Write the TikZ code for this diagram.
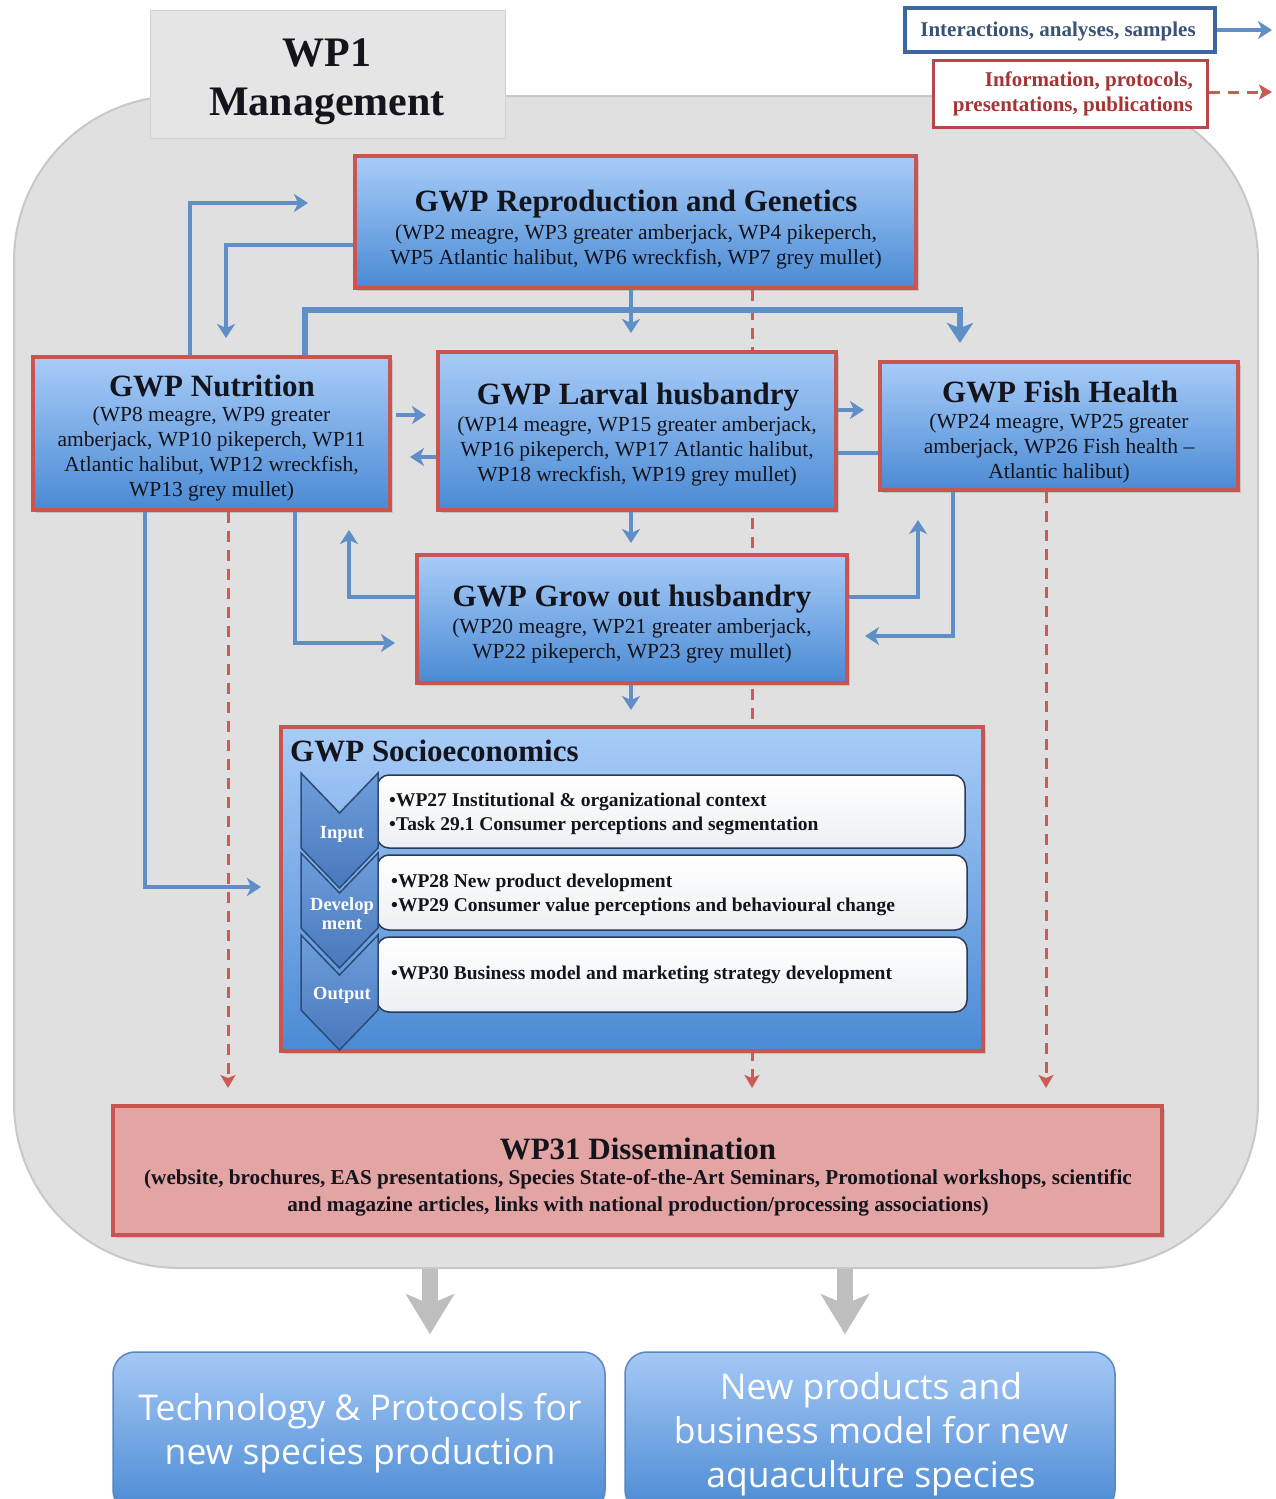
\documentclass[tikz,border=0pt]{standalone}
\usepackage{fontspec}
\setmainfont{Liberation Serif}
\newfontfamily\chalk{Open Sans}
\usetikzlibrary{arrows.meta,shadows}
\pgfdeclarelayer{bgzero}
\pgfdeclarelayer{background}
\pgfsetlayers{bgzero,background,main}
\definecolor{boxred}{RGB}{201,84,80}
\definecolor{lblue}{RGB}{168,204,248}
\definecolor{dblue}{RGB}{74,138,212}
\definecolor{linkblue}{RGB}{96,143,200}
\definecolor{dashred}{RGB}{205,90,85}
\definecolor{ink}{RGB}{20,20,28}
\definecolor{bggray}{RGB}{224,224,224}
\definecolor{bgline}{RGB}{200,200,200}
\definecolor{wpgray}{RGB}{229,229,229}
\definecolor{wpline}{RGB}{208,208,208}
\definecolor{legblue}{RGB}{61,103,163}
\definecolor{legbluetxt}{RGB}{58,82,118}
\definecolor{legred}{RGB}{185,70,75}
\definecolor{legredtxt}{RGB}{165,52,52}
\definecolor{dispink}{RGB}{227,164,164}
\definecolor{rowline}{RGB}{42,58,85}
\definecolor{rowgray}{RGB}{236,239,243}
\definecolor{chevline}{RGB}{45,75,120}
\definecolor{chevtop}{RGB}{110,158,218}
\definecolor{chevbot}{RGB}{72,120,188}
\definecolor{arrgray}{RGB}{190,190,190}
\definecolor{outtop}{RGB}{165,200,245}
\definecolor{outbot}{RGB}{75,138,212}
\definecolor{outline}{RGB}{90,135,195}
\begin{document}
\begin{tikzpicture}[x=1pt,y=-1pt,
  gwpbox/.style={draw=boxred, line width=4pt, top color=lblue, bottom color=dblue, inner sep=0pt,
    drop shadow={shadow xshift=3pt,shadow yshift=-3pt,opacity=0.3}},
  ttltxt/.style={font=\fontsize{31}{34}\selectfont\bfseries, text=ink, anchor=base, inner sep=0pt},
  subtxt/.style={font=\fontsize{21.5}{25}\selectfont, text=ink, align=center, inner sep=0pt},
  rowbox/.style={draw=rowline, line width=1.5pt, rounded corners=12pt, top color=white, bottom color=rowgray, inner sep=0pt},
  rowtxt/.style={font=\fontsize{19.5}{23.5}\selectfont\bfseries, text=ink, align=left, anchor=west, inner sep=0pt},
  chevshape/.style={draw=chevline, line width=1.5pt, top color=chevtop, bottom color=chevbot},
  chevtxt/.style={font=\fontsize{18.5}{19}\selectfont\bfseries, text=white, align=center, inner sep=0pt},
  blink/.style={draw=linkblue, line width=3.5pt, -{Stealth[length=14pt,width=18pt,inset=4pt]}},
  bline/.style={draw=linkblue, line width=3.5pt},
  bthick/.style={draw=linkblue, line width=6pt, -{Stealth[length=20pt,width=26pt,inset=5pt]}},
  rlink/.style={draw=dashred, line width=3pt, dash pattern=on 11pt off 8pt, -{Stealth[length=13pt,width=15pt,inset=3pt]}},
  garrow/.style={draw=arrgray, line width=16pt, -{Stealth[length=40pt,width=48pt,inset=10pt]}},
  outbox/.style={draw=outline, line width=1.5pt, rounded corners=22pt, top color=outtop, bottom color=outbot, inner sep=0pt},
  outtxt/.style={font=\chalk\fontsize{35.5}{44}\selectfont, text=white, align=center, inner sep=0pt}
]
\useasboundingbox (0,0) rectangle (1276,1499);
\begin{pgfonlayer}{bgzero}
\fill[white] (0,0) rectangle (1276,1499);
\node[draw=bgline, line width=2pt, fill=bggray, rounded corners=165pt, minimum width=1244pt, minimum height=1172pt, inner sep=0pt] (bg) at (636,682) {};
\end{pgfonlayer}

% helper coordinates
\coordinate (x145) at (145,0);
\coordinate (x190) at (190,0);
\coordinate (x226) at (226,0);
\coordinate (x228) at (228,0);
\coordinate (x295) at (295,0);
\coordinate (x305) at (305,0);
\coordinate (x349) at (349,0);
\coordinate (x430) at (430,0);
\coordinate (x631) at (631,0);
\coordinate (x752) at (752,0);
\coordinate (x845) at (845,0);
\coordinate (x918) at (918,0);
\coordinate (x953) at (953,0);
\coordinate (x960) at (960,0);
\coordinate (x1046) at (1046,0);
\coordinate (y203) at (0,203);
\coordinate (y245) at (0,245);
\coordinate (y310) at (0,310);
\coordinate (y410) at (0,410);
\coordinate (y415) at (0,415);
\coordinate (y453) at (0,453);
\coordinate (y457) at (0,457);
\coordinate (y597) at (0,597);
\coordinate (y636) at (0,636);
\coordinate (y643) at (0,643);
\coordinate (y887) at (0,887);
\coordinate (la1) at (1272,30);
\coordinate (la2) at (1272,92);

% WP1
\node[draw=wpline, line width=1pt, fill=wpgray, minimum width=355pt, minimum height=128pt, inner sep=0pt] (wp1) at (327.5,74) {};
\node[font=\fontsize{42}{49}\selectfont\bfseries, text=ink, align=center, inner sep=0pt] (wp1t) at (327,82) {WP1\\Management};

% legend
\node[draw=legblue, line width=3.5pt, fill=white, minimum width=310pt, minimum height=44pt, inner sep=0pt] (leg1) at (1060,30) {};
\node[font=\fontsize{21}{25}\selectfont\bfseries, text=legbluetxt, inner sep=0pt] (leg1t) at (1058,31) {Interactions, analyses, samples};
\node[draw=legred, line width=3pt, fill=white, minimum width=274pt, minimum height=67pt, inner sep=0pt] (leg2) at (1070,93.5) {};
\node[font=\fontsize{21}{24.5}\selectfont\bfseries, text=legredtxt, align=right, anchor=east, inner sep=0pt] (leg2t) at (1193,94) {Information, protocols,\\presentations, publications};
\draw[blink] (leg1.east) -- (la1);
\draw[rlink] (leg2.east |- la2) -- (la2);

% GWP boxes
\node[gwpbox, minimum width=561pt, minimum height=132pt] (rep) at (635.5,222) {};
\node[ttltxt] (rept) at (636,211) {GWP Reproduction and Genetics};
\node[subtxt] (reps) at (636,246.5) {(WP2 meagre, WP3 greater amberjack, WP4 pikeperch,\\WP5 Atlantic halibut, WP6 wreckfish, WP7 grey mullet)};

\node[gwpbox, minimum width=357pt, minimum height=153pt] (nut) at (211.5,433.5) {};
\node[ttltxt] (nutt) at (212,396) {GWP Nutrition};
\node[subtxt] (nuts) at (211.5,453.5) {(WP8 meagre, WP9 greater\\amberjack, WP10 pikeperch, WP11\\Atlantic halibut, WP12 wreckfish,\\WP13 grey mullet)};

\node[gwpbox, minimum width=398pt, minimum height=158pt] (lar) at (637,431) {};
\node[ttltxt] (lart) at (638,404) {GWP Larval husbandry};
\node[subtxt] (lars) at (637,451.5) {(WP14 meagre, WP15 greater amberjack,\\WP16 pikeperch, WP17 Atlantic halibut,\\WP18 wreckfish, WP19 grey mullet)};

\node[gwpbox, minimum width=358pt, minimum height=128pt] (fish) at (1059,426) {};
\node[ttltxt] (fisht) at (1060,402) {GWP Fish Health};
\node[subtxt] (fishs) at (1059,448) {(WP24 meagre, WP25 greater\\amberjack, WP26 Fish health --\\Atlantic halibut)};

\node[gwpbox, minimum width=430pt, minimum height=128pt] (grow) at (632,619) {};
\node[ttltxt] (growt) at (632,606) {GWP Grow out husbandry};
\node[subtxt] (grows) at (632,641) {(WP20 meagre, WP21 greater amberjack,\\WP22 pikeperch, WP23 grey mullet)};

% Socioeconomics
\node[gwpbox, minimum width=702pt, minimum height=324pt] (soc) at (632,889) {};
\node[ttltxt, anchor=base west] (soct) at (290,761) {GWP Socioeconomics};
\node[rowbox, minimum width=588pt, minimum height=73pt] (row1) at (671,811.5) {};
\node[rowbox, minimum width=590pt, minimum height=75pt] (row2) at (672,892.5) {};
\node[rowbox, minimum width=590pt, minimum height=75pt] (row3) at (672,974.5) {};
\node[rowtxt] (row1t) at (389,814) {•WP27 Institutional \& organizational context\\•Task 29.1 Consumer perceptions and segmentation};
\node[rowtxt] (row2t) at (391,895) {•WP28 New product development\\•WP29 Consumer value perceptions and behavioural change};
\node[rowtxt] (row3t) at (391,975) {•WP30 Business model and marketing strategy development};
\filldraw[chevshape] (301,935) -- (339.5,975) -- (378,935) -- (378,1010) -- (339.5,1050) -- (301,1010) -- cycle;
\filldraw[chevshape] (301,853) -- (339.5,893) -- (378,853) -- (378,928) -- (339.5,968) -- (301,928) -- cycle;
\filldraw[chevshape] (301,773) -- (339.5,813) -- (378,773) -- (378,848) -- (339.5,888) -- (301,848) -- cycle;
\node[chevtxt] (c1t) at (342,834) {Input};
\node[chevtxt] (c2t) at (342,914) {Develop\\ment};
\node[chevtxt] (c3t) at (342,995) {Output};

% Dissemination
\node[draw=boxred, line width=4pt, fill=dispink, minimum width=1049pt, minimum height=129pt, inner sep=0pt,
  drop shadow={shadow xshift=3pt,shadow yshift=-3pt,opacity=0.3}] (dis) at (637.5,1170.5) {};
\node[ttltxt] (dist) at (638,1159) {WP31 Dissemination};
\node[subtxt, font=\fontsize{21.2}{27}\selectfont\bfseries] (diss) at (638,1192.5) {(website, brochures, EAS presentations, Species State-of-the-Art Seminars, Promotional workshops, scientific\\and magazine articles, links with national production/processing associations)};

% outputs
\node[outbox, minimum width=492pt, minimum height=160pt] (tech) at (359,1432) {};
\node[outtxt] (techt) at (360,1433) {Technology \& Protocols for\\new species production};
\node[outbox, minimum width=490pt, minimum height=160pt] (newp) at (870,1432) {};
\node[outtxt] (newpt) at (871,1434) {New products and\\business model for new\\aquaculture species};
\draw[garrow, shorten >=17pt] (x430 |- bg.south) -- (x430 |- tech.north);
\draw[garrow, shorten >=17pt] (x845 |- bg.south) -- (x845 |- newp.north);

% dashed information links
\begin{pgfonlayer}{background}
\draw[rlink, shorten >=16pt] (x752 |- rep.south) -- (x752 |- dis.north);
\draw[rlink, shorten >=16pt] (x228 |- nut.south) -- (x228 |- dis.north);
\draw[rlink, shorten >=16pt] (x1046 |- fish.south) -- (x1046 |- dis.north);
\end{pgfonlayer}

% blue interaction links
\draw[blink, shorten >=45pt] (x190 |- nut.north) |- (rep.west |- y203);
\draw[blink, shorten >=17pt] (rep.west |- y245) -| (x226 |- nut.north);
\draw[blink, shorten >=17pt] (x631 |- rep.south) -- (x631 |- lar.north);
\draw[bthick, shorten >=17pt] (x305 |- nut.north) |- (x960 |- y310) -- (x960 |- fish.north);
\draw[blink, shorten <=4pt, shorten >=10pt] (nut.east |- y415) -- (lar.west |- y415);
\draw[blink, shorten >=18pt] (lar.west |- y457) -- (nut.east |- y457);
\draw[blink, shorten >=14pt] (lar.east |- y410) -- (fish.west |- y410);
\draw[bline] (fish.west |- y453) -- (lar.east |- y453);
\draw[blink, shorten >=10pt] (x631 |- lar.south) -- (x631 |- grow.north);
\draw[blink, shorten >=18pt] (grow.west |- y597) -| (x349 |- nut.south);
\draw[blink, shorten >=20pt] (x295 |- nut.south) |- (grow.west |- y643);
\draw[blink, shorten >=28pt] (grow.east |- y597) -| (x918 |- fish.south);
\draw[blink, shorten >=16pt] (x953 |- fish.south) |- (grow.east |- y636);
\draw[blink, shorten >=15pt] (x631 |- grow.south) -- (x631 |- soc.north);
\draw[blink, shorten >=18pt] (x145 |- nut.south) |- (soc.west |- y887);
\end{tikzpicture}
\end{document}
